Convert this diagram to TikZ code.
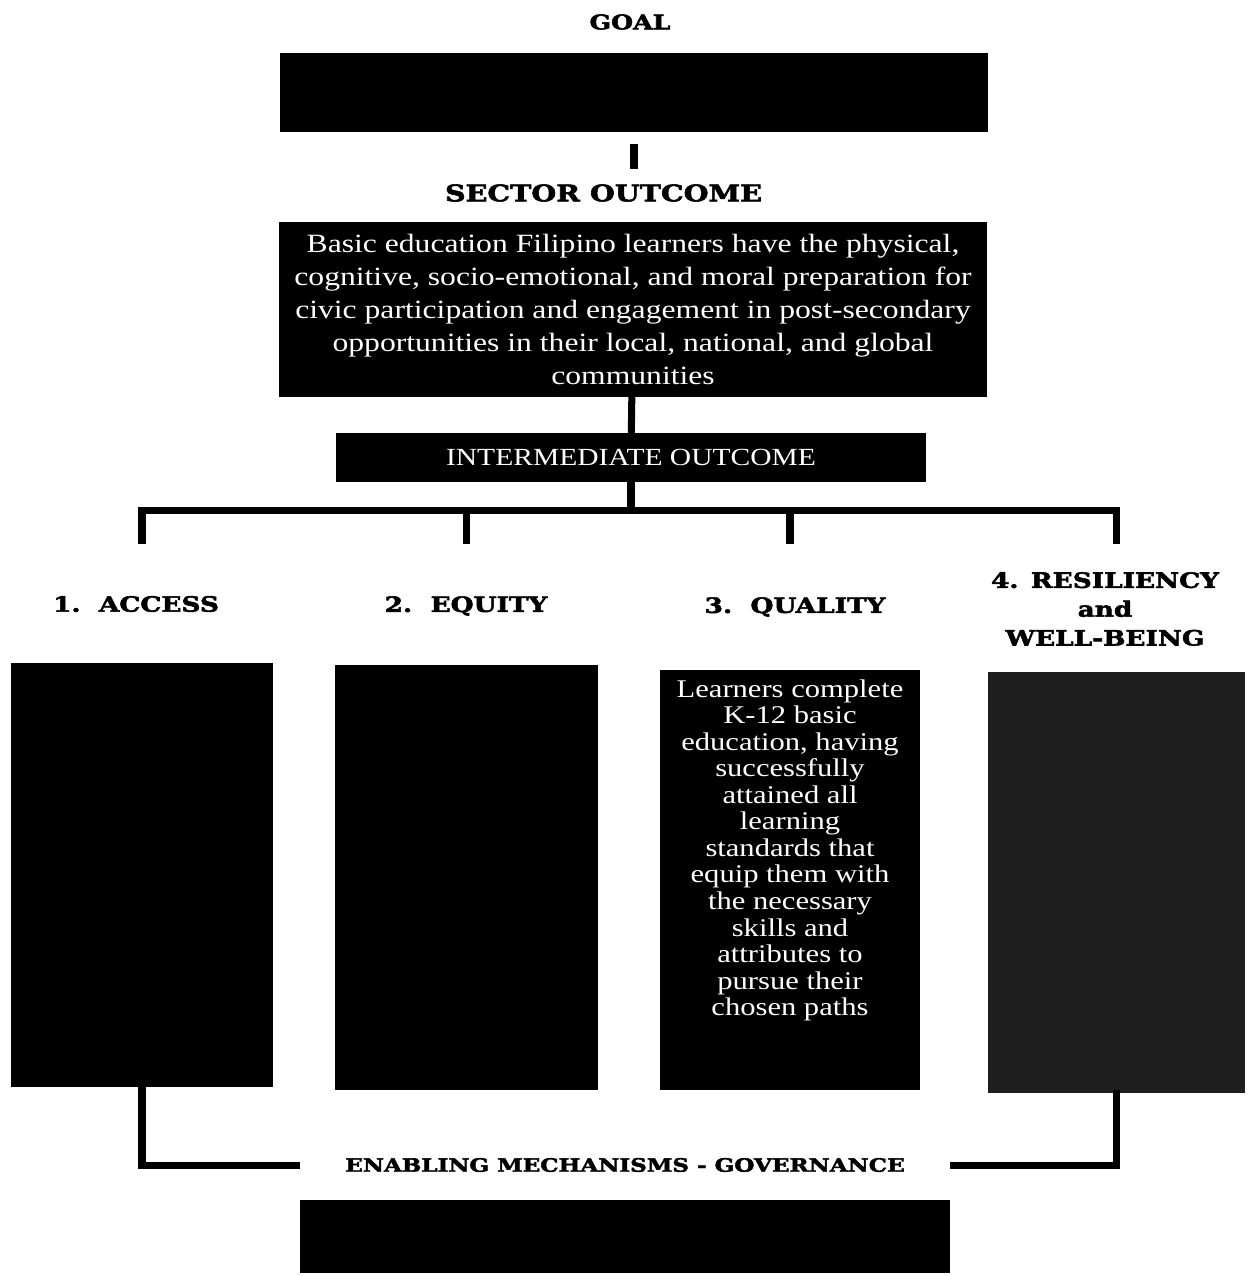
\documentclass[tikz,border=0pt]{standalone}
\usepackage{fontspec}
\usetikzlibrary{positioning,calc}
\newfontfamily\bodyfont[FakeStretch=1.2]{Liberation Serif}
\newfontfamily\headfont[FakeStretch=1.25,FakeBold=2.5]{DejaVu Serif}

\begin{document}
\begin{tikzpicture}[
  darkbox/.style={fill=black, text=white, align=center, inner sep=2pt, font=\bodyfont\fontsize{15}{18.7}\selectfont},
  boxtext/.style={text=white, align=center, inner sep=2pt, font=\bodyfont\fontsize{14.5}{15.1}\selectfont},
  headlabel/.style={font=\headfont\bfseries\fontsize{#1}{16.4}\selectfont, align=center},
  headlabel/.default=12,
  bar/.style={line width=4pt, line cap=rect},
]
\useasboundingbox (0,0) rectangle (24.94,-25.52);

% Goal and sector outcome at the top
\node[headlabel=11.5] (goalhead) at (12.6,-0.44) {GOAL};
\node[darkbox, minimum width=14.16cm, minimum height=1.58cm] (goal) at (12.68,-1.85) {};

\node[headlabel=13] (sechead) at (12.07,-3.86) {SECTOR OUTCOME};
\node[darkbox, minimum width=14.16cm, minimum height=3.5cm] (sector) at (12.66,-6.19)
  {Basic education Filipino learners have the physical,\\
   cognitive, socio-emotional, and moral preparation for\\
   civic participation and engagement in post-secondary\\
   opportunities in their local, national, and global\\
   communities};

\node[darkbox, font=\bodyfont\fontsize{14}{16}\selectfont, minimum width=11.8cm, minimum height=0.98cm] (inter) at (12.62,-9.15) {INTERMEDIATE OUTCOME};

\draw[bar, shorten <=0.3cm, shorten >=0.25cm] (goal.south) -- (goal.south |- sechead.north);
\draw[bar] (sector) -- (inter);

% The four intermediate outcomes
\node[darkbox, minimum width=5.24cm, minimum height=8.48cm] (access) at (2.84,-17.5) {};
\node[darkbox, minimum width=5.26cm, minimum height=8.5cm] (equity) at (9.33,-17.55) {};
\node[darkbox, minimum width=5.2cm, minimum height=8.4cm] (quality) at (15.8,-17.6) {};
\node[darkbox, fill=black!88, minimum width=5.14cm, minimum height=8.42cm] (resil) at (22.33,-17.65) {};

\node[boxtext, below=0.12cm of quality.north] (qualtext)
  {Learners complete\\K-12 basic\\education, having\\successfully\\attained all\\learning\\standards that\\equip them with\\the necessary\\skills and\\attributes to\\pursue their\\chosen paths};

\node[headlabel] (acchead) at (2.72,-12.08) {1.\ \ ACCESS};
\node[headlabel] (equhead) at (9.32,-12.12) {2.\ \ EQUITY};
\node[headlabel] (qualhead) at (15.9,-12.14) {3.\ \ QUALITY};
\node[headlabel] (reshead) at (22.1,-12.18) {4. RESILIENCY\\and\\WELL-BEING};

% Bus from the intermediate outcome
\coordinate (bus) at ($(inter.south)+(0,-0.56)$);
\draw[bar] (inter) -- (bus);
\draw[bar] (bus -| access.north) -- (bus -| resil.north);
\foreach \n in {access,equity,quality,resil} {
  \path (bus -| \n.north) ++(0,-0.6) coordinate (drop-\n);
  \draw[bar] (bus -| \n.north) -- (drop-\n);
}

% Enabling mechanisms at the bottom
\node[headlabel=10.5] (govhead) at (12.5,-23.3) {ENABLING MECHANISMS - GOVERNANCE};
\node[darkbox, minimum width=13cm, minimum height=1.46cm] (gov) at (12.5,-24.73) {};

\draw[bar, shorten >=0.85cm] (access.south) |- (govhead.west);
\draw[bar, shorten >=0.85cm] (resil.south) |- (govhead.east);

\end{tikzpicture}
\end{document}
